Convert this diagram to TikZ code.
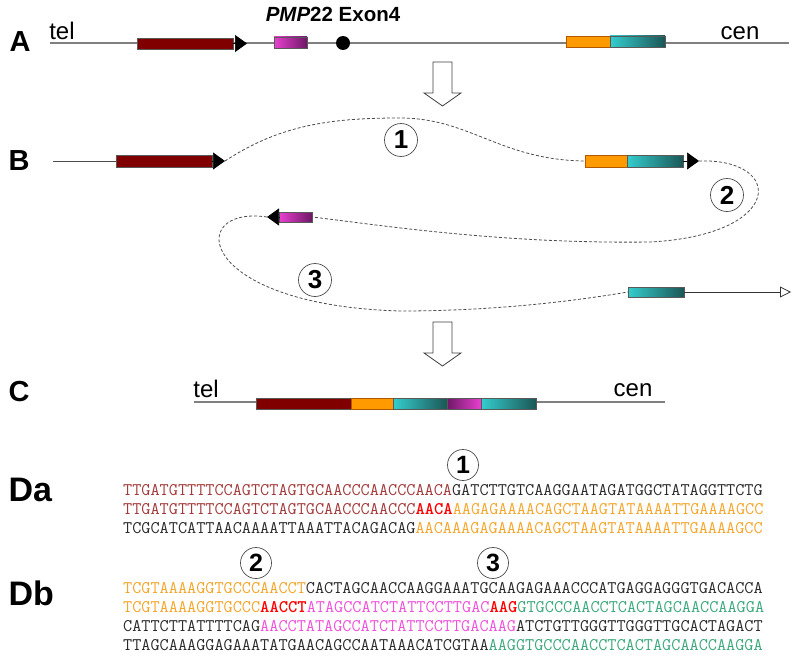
\documentclass[tikz,border=0pt]{standalone}
\usepackage{fontspec}
\setmainfont{Liberation Sans}
\usetikzlibrary{arrows.meta}
\definecolor{darkred}{HTML}{800000}
\definecolor{exonpink}{HTML}{E840D0}
\definecolor{exonplum}{HTML}{6E1866}
\definecolor{orangebox}{HTML}{FF9A00}
\definecolor{tealhi}{HTML}{34CDCD}
\definecolor{tealdk}{HTML}{1B5656}
\definecolor{seqbrown}{HTML}{A3393A}
\definecolor{seqorange}{HTML}{F5A52A}
\definecolor{seqpink}{HTML}{F050DC}
\definecolor{seqgreen}{HTML}{3BA97B}
\definecolor{seqred}{HTML}{FF0000}
\definecolor{seqink}{HTML}{2A2A2A}

\tikzset{
	chrom/.style={black!50, line width=1.1pt},
	exon/.style={draw=black!65, line width=.5pt, minimum height=11pt, inner sep=0, outer sep=0},
	arrtip/.style={line width=.7pt, -{Triangle[length=12pt,width=17pt]}},
	loopy/.style={black!70, dashed, dash pattern=on 3pt off 2pt, line width=.8pt},
	hollow/.style={draw=black!75, line width=.8pt, fill=white},
	num/.style={circle, draw=black!70, line width=.7pt, minimum size=33pt, inner sep=0, font=\fontsize{26}{26}\selectfont\bfseries},
	seqnum/.style={num, minimum size=31pt, font=\fontsize{25}{25}\selectfont\bfseries},
	panel/.style={font=\fontsize{29}{29}\selectfont\bfseries},
	endlbl/.style={font=\fontsize{24}{24}\selectfont, inner sep=0},
	seq/.style={anchor=west, inner sep=0, font=\ttfamily\addfontfeatures{FakeBold=0.5}\fontsize{17.74}{18}\selectfont}
}

\begin{document}
\begin{tikzpicture}[x=1pt, y=-1pt]
	\useasboundingbox (0,0) rectangle (800,661);

	% panel letters
	\node[panel] (pa) at (20,42) {A};
	\node[panel] (pb) at (19,161) {B};
	\node[panel] (pc) at (19,392) {C};
	\node[panel, anchor=west, font=\fontsize{34}{34}\selectfont\bfseries] (pda) at (5,490) {Da};
	\node[panel, anchor=west, font=\fontsize{34}{34}\selectfont\bfseries] (pdb) at (5,593) {Db};

	% down arrows
	\foreach \t in {62,322}{
		\draw[hollow] (433,\t) -- (452,\t) -- (452,\t+31) -- (461,\t+31) -- (442.5,\t+44) -- (424,\t+31) -- (433,\t+31) -- cycle;
	}

	% A: wild type
	\draw[chrom] (50,43) -- (789,43);
	\node[endlbl] (telA) at (62,31) {tel};
	\node[endlbl] (cenA) at (740,33) {cen};
	\node[exon, fill=darkred, minimum width=96pt] (brA) at (185,43.5) {};
	\draw[arrtip] (brA.east) -- (247,43.5);
	\node[exon, left color=exonpink, right color=exonplum, minimum width=33pt] (mgA) at (290.5,42.5) {};
	\node[font=\fontsize{20.5}{20.5}\selectfont\bfseries] (pmp) at (333,14) {\textit{PMP}22 Exon4};
	\fill (343,43) circle[radius=7pt];
	\node[exon, fill=orangebox, draw=orange!70!black, minimum width=44pt] (orA) at (588,41.5) {};
	\node[exon, left color=tealhi, right color=tealdk, minimum width=55pt] (tlA) at (637.5,41.5) {};

	% B: rearrangement
	\draw[chrom, line width=.8pt, black!70] (53,161) -- (116,161);
	\node[exon, fill=darkred, minimum height=12pt, minimum width=96pt] (brB) at (164,161) {};
	\coordinate (t1) at (225,161);
	\draw[arrtip] (brB.east) -- (t1);
	\node[exon, fill=orangebox, draw=orange!70!black, minimum height=12pt, minimum width=42pt] (orB) at (606,161) {};
	\node[exon, left color=tealhi, right color=tealdk, minimum height=12pt, minimum width=56pt] (tlB) at (655,161) {};
	\coordinate (t2) at (699,161);
	\draw[arrtip] (tlB.east) -- (t2);
	\node[exon, left color=exonpink, right color=exonplum, minimum height=10pt, minimum width=33pt] (mgB) at (295.5,217) {};
	\coordinate (t3) at (267,217);
	\draw[arrtip] (mgB.west) -- (t3);
	\node[exon, left color=tealhi, right color=tealdk, minimum height=10pt, minimum width=56pt] (tlD) at (656,292) {};
	\coordinate (t4) at (791,292);
	\draw[line width=.8pt, black!80, -{Triangle[open, length=11pt, width=11pt]}] (tlD.east) -- (t4);

	\draw[loopy] (t1) .. controls (280,125) and (330,118) .. (400,118)
		.. controls (470,118) and (500,160) .. (orB.west);
	\draw[loopy] (t2) .. controls (785,158) and (785,235) .. (650,242)
		.. controls (500,244) and (380,225) .. (mgB.east);
	\draw[loopy] (t3) .. controls (185,205) and (195,305) .. (400,311)
		.. controls (500,311) and (580,300) .. (tlD.west);

	\node[num, fill=white] (n1) at (401,140) {1};
	\node[num] (n2) at (727,195) {2};
	\node[num] (n3) at (315,280) {3};

	% C: product
	\draw[chrom] (194,402) -- (665,402);
	\node[endlbl] (telC) at (206,389) {tel};
	\node[endlbl] (cenC) at (633,390) {cen};
	\node[exon, fill=darkred, minimum width=95pt] (brC) at (303.5,403.5) {};
	\node[exon, fill=orangebox, draw=orange!70!black, minimum width=42pt] (orC) at (372,403.5) {};
	\node[exon, left color=tealhi, right color=tealdk, minimum width=54pt] (tlC) at (420,403.5) {};
	\node[exon, left color=exonplum, right color=exonpink, minimum width=34pt] (mgC) at (464,403.5) {};
	\node[exon, left color=tealhi, right color=tealdk, minimum width=55pt] (tlE) at (508.5,403.5) {};

	% Da: junction 1
	\node[seqnum] (d1) at (463,465) {1};
	\node[seq] (da1) at (123,490) {\textcolor{seqbrown}{TTGATGTTTTCCAGTCTAGTGCAACCCAACCCAACA}\textcolor{seqink}{GATCTTGTCAAGGAATAGATGGCTATAGGTTCTG}};
	\node[seq] (da2) at (123,509) {\textcolor{seqbrown}{TTGATGTTTTCCAGTCTAGTGCAACCCAACCC}\textcolor{seqred}{\bfseries AACA}\textcolor{seqorange}{AAGAGAAAACAGCTAAGTATAAAATTGAAAAGCC}};
	\node[seq] (da3) at (123,528) {\textcolor{seqink}{TCGCATCATTAACAAAATTAAATTACAGACAG}\textcolor{seqorange}{AACAAAGAGAAAACAGCTAAGTATAAAATTGAAAAGCC}};

	% Db: junctions 2 and 3
	\node[seqnum] (d2) at (256,563) {2};
	\node[seqnum] (d3) at (493,563) {3};
	\node[seq] (db1) at (123,588) {\textcolor{seqorange}{TCGTAAAAGGTGCCCAACCT}\textcolor{seqink}{CACTAGCAACCAAGGAAATGCAAGAGAAACCCATGAGGAGGGTGACACCA}};
	\node[seq] (db2) at (123,607) {\textcolor{seqorange}{TCGTAAAAGGTGCCC}\textcolor{seqred}{\bfseries AACCT}\textcolor{seqpink}{ATAGCCATCTATTCCTTGAC}\textcolor{seqred}{\bfseries AAG}\textcolor{seqgreen}{GTGCCCAACCTCACTAGCAACCAAGGA}};
	\node[seq] (db3) at (123,626) {\textcolor{seqink}{CATTCTTATTTTCAG}\textcolor{seqpink}{AACCTATAGCCATCTATTCCTTGACAAG}\textcolor{seqink}{ATCTGTTGGGTTGGGTTGCACTAGACT}};
	\node[seq] (db4) at (123,645) {\textcolor{seqink}{TTAGCAAAGGAGAAATATGAACAGCCAATAAACATCGTAA}\textcolor{seqgreen}{AAGGTGCCCAACCTCACTAGCAACCAAGGA}};
\end{tikzpicture}
\end{document}
